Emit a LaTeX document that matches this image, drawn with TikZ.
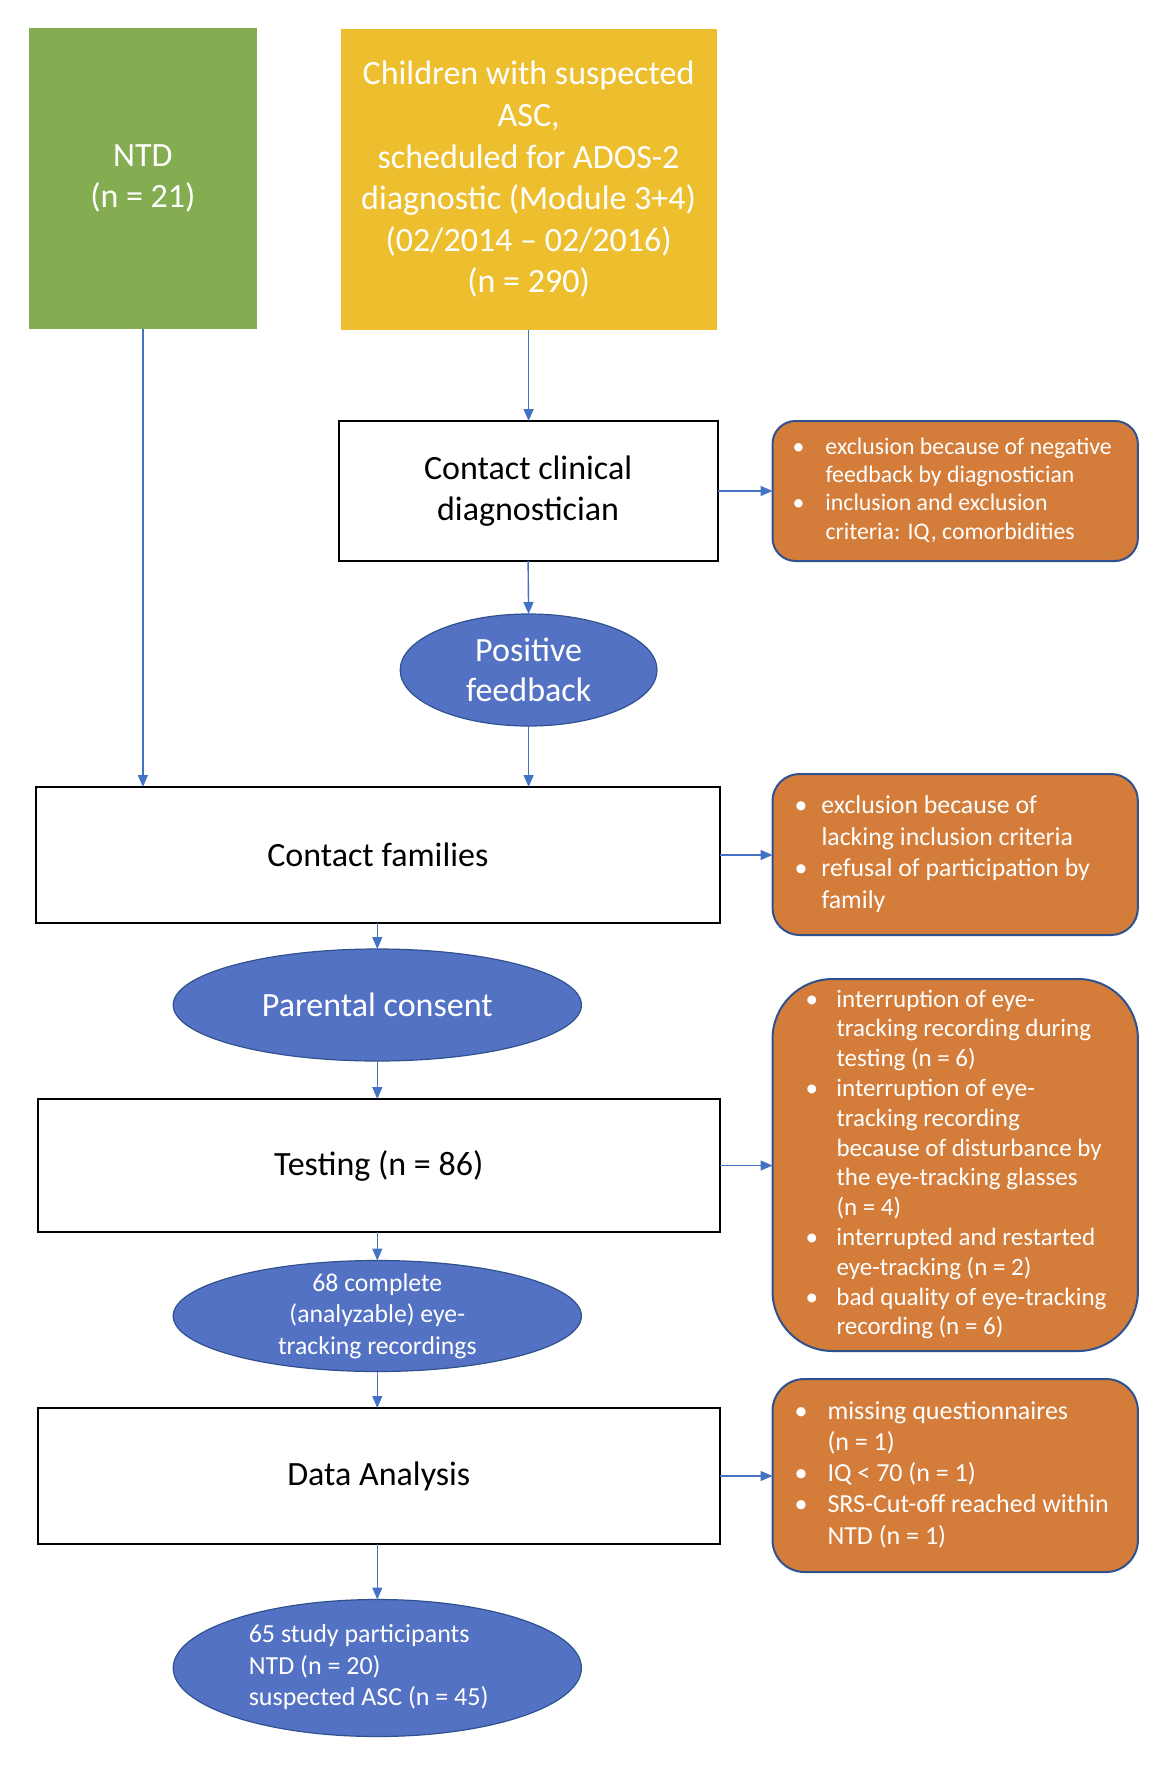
\documentclass[tikz,border=0pt]{standalone}
\usepackage{fontspec}
\setmainfont{Carlito}
\usetikzlibrary{arrows.meta,shapes.geometric}
\definecolor{ntdgreen}{RGB}{132,172,80}
\definecolor{ascyellow}{RGB}{237,191,46}
\definecolor{exorange}{RGB}{212,125,58}
\definecolor{ellblue}{RGB}{84,114,195}
\definecolor{edgeblue}{RGB}{47,82,143}
\definecolor{arrowblue}{RGB}{68,114,196}
\newcommand\exbul[1]{\makebox[#1][l]{\textbullet}}
\begin{document}
\begin{tikzpicture}[x=0.5pt,y=-0.5pt,
  every node/.style={inner sep=0pt,outer sep=0pt},
  mainfont/.style={font=\fontsize{17}{20.8}\selectfont},
  srcbox/.style={rectangle,text=white,align=center,mainfont},
  stepbox/.style={rectangle,draw=black,line width=1pt,fill=white,align=center,mainfont},
  exclbox/.style={rectangle,rounded corners=#1,draw=edgeblue,line width=1pt,fill=exorange,text=white,minimum width=182.7pt},
  oval/.style={ellipse,draw=edgeblue,line width=0.6pt,fill=ellblue,text=white,inner sep=-40pt},
  flow/.style={draw=arrowblue,line width=0.7pt,-{Triangle[width=5pt,length=6pt]}}]
\fill[white] (0,0) rectangle (1172,1766);
\useasboundingbox (0,0) rectangle (1172,1766);

% source boxes
\node[srcbox,fill=ntdgreen,minimum width=114pt,minimum height=150.5pt] (green) at (142.9,178.5) {NTD\\(n = 21)};
\node[srcbox,fill=ascyellow,minimum width=188.1pt,minimum height=150.5pt] (yellow) at (528.6,179.5)
  {Children with suspected\\ASC,\\scheduled for ADOS-2\\diagnostic (Module 3+4)\\(02/2014 – 02/2016)\\(n = 290)};

% steps
\node[stepbox,minimum width=189.6pt,minimum height=70pt,font=\fontsize{17}{20.25}\selectfont] (clinical) at (528.1,491) {Contact clinical\\diagnostician};
\node[oval,minimum width=128.4pt,minimum height=56pt,font=\fontsize{17}{19.75}\selectfont,align=center] (pos) at (528.6,670) {Positive\\feedback};
\node[stepbox,minimum width=342pt,minimum height=68pt] (families) at (377.8,855) {Contact families};
\node[oval,minimum width=204.1pt,minimum height=56pt,mainfont] (parental) at (377.3,1005) {Parental consent};
\node[stepbox,minimum width=341pt,minimum height=66.5pt] (testing) at (378.8,1165.5) {Testing (n = 86)};
\node[oval,minimum width=204.1pt,minimum height=55.5pt,font=\fontsize{12.85}{15.75}\selectfont,align=center] (rec) at (377.3,1316)
  {68 complete\\(analyzable) eye-\\tracking recordings};
\node[stepbox,minimum width=341pt,minimum height=68pt] (analysis) at (378.8,1476) {Data Analysis};
\node[oval,minimum width=204.1pt,minimum height=68.5pt,font=\fontsize{13}{15.75}\selectfont] (part) at (377.3,1668)
  {\makebox[204.1pt][l]{\hspace{37.8pt}\begin{tabular}{@{}l@{}}65 study participants\\NTD (n = 20)\\suspected ASC (n = 45)\end{tabular}}};

% exclusion boxes
\node[exclbox=11.5pt,minimum height=70pt,font=\fontsize{11.9}{14.15}\selectfont] (o1) at (955.2,491)
  {\makebox[182.7pt][l]{\hspace{10pt}\begin{tabular}{@{}l@{}l@{}}
  \exbul{16.5pt} & exclusion because of negative\\
  & feedback by diagnostician\\
  \exbul{16.5pt} & inclusion and exclusion\\
  & criteria: IQ, comorbidities\end{tabular}}};
\node[exclbox=13.5pt,minimum height=80.5pt,font=\fontsize{12.9}{15.75}\selectfont] (o2) at (955.2,854.5)
  {\makebox[182.7pt][l]{\hspace{11pt}\begin{tabular}{@{}l@{}l@{}}
  \exbul{13.5pt} & exclusion because of\\
  & lacking inclusion criteria\\
  \exbul{13.5pt} & refusal of participation by\\
  & family\end{tabular}}};
\node[exclbox=30pt,minimum height=186pt,font=\fontsize{12.5}{14.9}\selectfont] (o3) at (955.2,1165)
  {\makebox[182.7pt][l]{\hspace{16.5pt}\begin{tabular}{@{}l@{}l@{}}
  \exbul{15.5pt} & interruption of eye-\\
  & tracking recording during\\
  & testing (n = 6)\\
  \exbul{15.5pt} & interruption of eye-\\
  & tracking recording\\
  & because of disturbance by\\
  & the eye-tracking glasses\\
  & (n = 4)\\
  \exbul{15.5pt} & interrupted and restarted\\
  & eye-tracking (n = 2)\\
  \exbul{15.5pt} & bad quality of eye-tracking\\
  & recording (n = 6)\end{tabular}}};
\node[exclbox=16pt,minimum height=96.5pt,font=\fontsize{13}{15.6}\selectfont] (o4) at (955.2,1475.5)
  {\makebox[182.7pt][l]{\hspace{11pt}\begin{tabular}{@{}l@{}l@{}}
  \exbul{16.5pt} & missing questionnaires\\
  & (n = 1)\\
  \exbul{16.5pt} & IQ < 70 (n = 1)\\
  \exbul{16.5pt} & SRS-Cut-off reached within\\
  & NTD (n = 1)\end{tabular}}};

% connectors
\draw[flow] (green.south) -- (green.south |- families.north);
\draw[flow] (yellow.south) -- (yellow.south |- clinical.north);
\draw[flow] (clinical.east) -- (clinical.east -| o1.west);
\draw[flow] (clinical.south) -- (pos.north);
\draw[flow] (pos.south) -- (pos.south |- families.north);
\draw[flow] (families.east) -- (families.east -| o2.west);
\draw[flow] (parental.north |- families.south) -- (parental.north);
\draw[flow] (parental.south) -- (parental.south |- testing.north);
\draw[flow] (testing.east) -- (testing.east -| o3.west);
\draw[flow] (rec.north |- testing.south) -- (rec.north);
\draw[flow] (rec.south) -- (rec.south |- analysis.north);
\draw[flow] (analysis.east) -- (analysis.east -| o4.west);
\draw[flow] (part.north |- analysis.south) -- (part.north);
\end{tikzpicture}
\end{document}
